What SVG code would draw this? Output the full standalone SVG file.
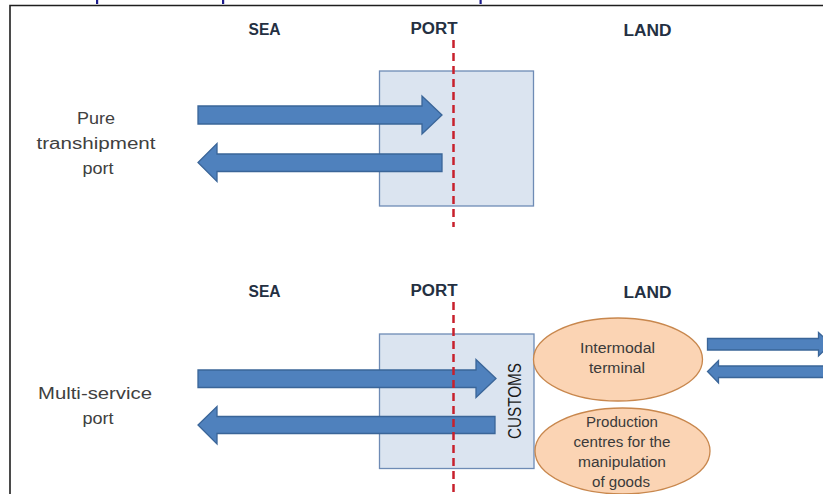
<svg xmlns="http://www.w3.org/2000/svg" width="823" height="494" viewBox="0 0 823 494">
<style>
.hdr{font-family:"Liberation Sans",Arial,sans-serif;font-weight:bold;font-size:16px;fill:#243042;text-anchor:middle}
.lbl{font-family:"Liberation Sans",Arial,sans-serif;font-size:16px;fill:#404040;text-anchor:middle}
.elab{font-family:"Liberation Sans",Arial,sans-serif;font-size:14px;fill:#3a3a3a;text-anchor:middle}
.port{fill:#dbe4f0;stroke:#6e8bb5;stroke-width:1.3}
.ell{fill:#fbd4b4;stroke:#c8874d;stroke-width:1.3}
.arr{fill:#4f81bd;stroke:#3a6598;stroke-width:1.3;stroke-linejoin:miter}
.dash{stroke:#c8202c;stroke-width:2.5;stroke-dasharray:8,5;fill:none}
</style>
<rect width="823" height="494" fill="#ffffff"/>
<g id="title-fragments" fill="#1c1c8a">
<rect x="96" y="0" width="2.2" height="4"/>
<rect x="222" y="0" width="2.2" height="4"/>
<rect x="479.5" y="0" width="2.2" height="4"/>
</g>
<path id="frame" d="M10,500 L10,5.5 L830,5.5" fill="none" stroke="#1e1e1e" stroke-width="1.6"/>
<g id="headers-top">
<text class="hdr" x="264.5" y="35" textLength="32" lengthAdjust="spacingAndGlyphs">SEA</text>
<text class="hdr" x="434" y="34" textLength="47" lengthAdjust="spacingAndGlyphs">PORT</text>
<text class="hdr" x="647.5" y="36" textLength="48" lengthAdjust="spacingAndGlyphs">LAND</text>
</g>
<g id="headers-bottom">
<text class="hdr" x="264.5" y="297" textLength="32" lengthAdjust="spacingAndGlyphs">SEA</text>
<text class="hdr" x="434" y="296" textLength="47" lengthAdjust="spacingAndGlyphs">PORT</text>
<text class="hdr" x="647.5" y="298" textLength="48" lengthAdjust="spacingAndGlyphs">LAND</text>
</g>
<g id="label-pure">
<text class="lbl" x="96" y="123.5" textLength="38" lengthAdjust="spacingAndGlyphs">Pure</text>
<text class="lbl" x="96" y="148.5" textLength="119" lengthAdjust="spacingAndGlyphs">transhipment</text>
<text class="lbl" x="98" y="174" textLength="31" lengthAdjust="spacingAndGlyphs">port</text>
</g>
<g id="label-multi">
<text class="lbl" x="95" y="398.5" textLength="114" lengthAdjust="spacingAndGlyphs">Multi-service</text>
<text class="lbl" x="98" y="424" textLength="31" lengthAdjust="spacingAndGlyphs">port</text>
</g>
<g id="port-top"><rect class="port" x="379.5" y="71" width="154" height="135"/></g>
<g id="port-bottom"><rect class="port" x="379.5" y="334" width="154.5" height="134.5"/>
<text x="521" y="401" transform="rotate(-90 521 401)" font-family="'Liberation Sans',Arial,sans-serif" font-size="18" fill="#1a1a1a" text-anchor="middle" textLength="76" lengthAdjust="spacingAndGlyphs">CUSTOMS</text>
</g>
<g id="intermodal-terminal">
<ellipse class="ell" cx="618" cy="359.5" rx="84.5" ry="41.5"/>
<text class="elab" x="617.5" y="353" textLength="75" lengthAdjust="spacingAndGlyphs">Intermodal</text>
<text class="elab" x="617" y="373" textLength="56" lengthAdjust="spacingAndGlyphs">terminal</text>
</g>
<g id="production-centres">
<ellipse class="ell" cx="622.5" cy="451" rx="87.5" ry="43"/>
<text class="elab" x="622" y="427" textLength="72" lengthAdjust="spacingAndGlyphs">Production</text>
<text class="elab" x="622" y="447" textLength="97" lengthAdjust="spacingAndGlyphs">centres for the</text>
<text class="elab" x="622" y="467" textLength="88" lengthAdjust="spacingAndGlyphs">manipulation</text>
<text class="elab" x="621" y="487" textLength="58" lengthAdjust="spacingAndGlyphs">of goods</text>
</g>
<g id="connectors">
<path class="arr" d="M198,106 L422,106 L422,96 L442,115 L422,134 L422,124 L198,124 Z"/>
<path class="arr" d="M442,154 L217,154 L217,143.5 L198,162.5 L217,181.5 L217,171.5 L442,171.5 Z"/>
<path class="arr" d="M198,370 L476,370 L476,359.5 L496,378.5 L476,397.5 L476,387.5 L198,387.5 Z"/>
<path class="arr" d="M495,416.5 L217,416.5 L217,406.5 L198,425 L217,444 L217,433.5 L495,433.5 Z"/>
<path class="arr" d="M707.5,338.5 L818.5,338.5 L818.5,332.5 L831,344 L818.5,356 L818.5,350 L707.5,350 Z"/>
<path class="arr" d="M830,366 L718.5,366 L718.5,360.5 L707.5,371.5 L718.5,383 L718.5,377.5 L830,377.5 Z"/>
</g>
<g id="boundary-lines">
<line class="dash" x1="453.5" y1="40" x2="453.5" y2="227"/>
<line class="dash" x1="453.5" y1="302" x2="453.5" y2="494"/>
</g>
</svg>
